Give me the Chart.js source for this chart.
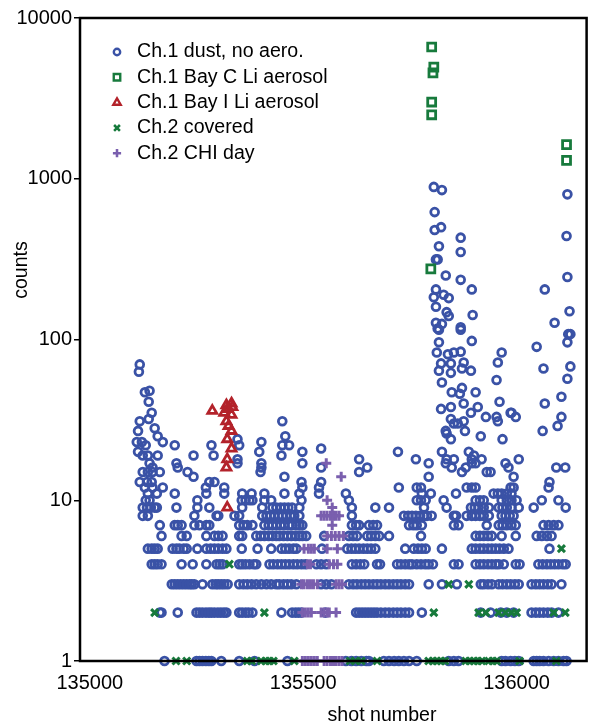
<!DOCTYPE html>
<html><head><meta charset="utf-8">
<script src="https://cdn.jsdelivr.net/npm/chart.js@4.4.1/dist/chart.umd.min.js"></script>
<style>html,body{margin:0;padding:0;background:#fff}#wrap{width:595px;height:725px}</style>
</head><body><div id="wrap"><canvas id="c" width="595" height="725"></canvas></div>
<script>
// ---- data (shot number, counts) ----
const seriesLabels = ['Ch.1 dust, no aero.', 'Ch.1 Bay C Li aerosol', 'Ch.1 Bay I Li aerosol', 'Ch.2 covered', 'Ch.2 CHI day'];
const xTicks = [135000, 135500, 136000];
const yTicks = [1, 10, 100, 1000, 10000];

// Ch.1 dust, shots at each low count level
const dust1 = [135175,135250,135257,135264,135272,135279,135285,135308,135350,135386,135463,135600,135613,135624,135636,135648,135654,135689,135701,135713,135724,135736,135748,135766,135841,135853,135864,135965,135974,135986,135996,136005,136040,136047,136054,136063,136075,136087,136098,136110,136117];
const dust2 = [135164,135168,135206,135250,135257,135264,135272,135279,135285,135292,135300,135307,135314,135320,135350,135357,135365,135372,135381,135449,135474,135482,135489,135496,135552,135624,135631,135638,135645,135652,135659,135666,135673,135682,135692,135701,135711,135720,135729,135739,135748,135778,135916,135939,135963,135977,135993,136035,136045,136054,136063,136073,136082,136098];
const dust3 = [135192,135199,135206,135213,135220,135227,135234,135239,135245,135264,135287,135295,135301,135308,135315,135323,135350,135360,135369,135379,135390,135402,135414,135425,135437,135444,135454,135463,135472,135484,135542,135554,135566,135607,135617,135626,135636,135645,135654,135664,135673,135682,135692,135701,135711,135720,135729,135739,135748,135794,135825,135860,135916,135923,135933,135942,135958,135967,135977,135986,135996,136005,136035,136045,136054,136063,136073,136082,136105];
const dust4 = [135145,135152,135159,135168,135215,135241,135273,135297,135304,135311,135350,135357,135365,135374,135384,135390,135421,135430,135440,135449,135458,135467,135477,135486,135496,135505,135531,135542,135554,135614,135624,135634,135643,135673,135680,135720,135729,135739,135748,135755,135766,135776,135786,135794,135804,135853,135864,135904,135914,135923,135933,135942,135951,135958,135970,135998,136007,136051,136061,136071,136080,136089,136098,136108,136115];
const dust5 = [135136,135145,135152,135159,135194,135203,135210,135220,135227,135252,135273,135283,135292,135301,135311,135320,135356,135393,135425,135449,135458,135467,135477,135484,135544,135603,135613,135622,135631,135641,135650,135659,135669,135739,135759,135769,135778,135787,135825,135895,135904,135914,135923,135933,135942,135951,135960,135970,135981,136077];
const dust6 = [135168,135215,135227,135273,135292,135301,135311,135350,135357,135390,135400,135409,135419,135428,135437,135444,135454,135463,135472,135482,135491,135498,135507,135549,135607,135617,135626,135650,135659,135669,135678,135701,135776,135904,135914,135923,135933,135942,135965,135998,136047,136059,136071,136082];
const dust7 = [135164,135199,135206,135215,135245,135257,135273,135280,135350,135360,135369,135381,135409,135419,135428,135437,135447,135456,135467,135474,135484,135491,135498,135614,135624,135631,135654,135664,135673,135748,135758,135766,135778,135853,135864,135930,135958,135967,135977,135988,135998,136063,136075,136087,136098];
const dust8 = [135124,135136,135245,135297,135301,135339,135350,135404,135414,135423,135432,135442,135451,135460,135470,135479,135491,135614,135736,135746,135755,135764,135774,135783,135790,135801,135853,135858,135883,135895,135904,135914,135923,135935,135965,135974,135984,135993];
const dust9 = [135124,135134,135143,135152,135157,135203,135252,135280,135357,135404,135428,135437,135447,135456,135465,135474,135491,135614,135669,135701,135783,135836,135893,135902,135911,135923,135935,135958,135967,135977,135988,136005,136040,136115];
const dust10 = [135131,135140,135252,135356,135365,135374,135381,135409,135425,135496,135607,135766,135776,135787,135829,135904,135914,135923,135965,135977,135988,136000,136059,136098];
// Ch.1 dust, higher counts as [shot, counts]
const dustHigh = [
 [135136,11],[135157,11],[135199,11],[135273,11],[135315,11],[135357,11],[135379,11],[135409,11],[135456,11],[135491,11],[135537,11],[135600,11],[135778,11],[135799,11],[135858,11],[135946,11],[135956,11],[135965,11],[135977,11],[135988,11],
 [135129,12],[135147,12],[135171,12],[135272,12],[135315,12],[135498,12],[135537,12],[135724,12],[135766,12],[135776,12],[135883,12],[135895,12],[135904,12],[135986,12],[135993,12],[136075,12],
 [135117,13],[135134,13],[135145,13],[135280,13],[135292,13],[135496,13],[135542,13],[136077,13],
 [135243,14],[135456,14],[135794,14],[135993,14],
 [135124,15],[135136,15],[135147,15],[135164,15],[135229,15],[135400,15],[135631,15],[135872,15],[135930,15],[135939,15],
 [135147,16],[135206,16],[135402,16],[135542,16],[135650,16],[135848,16],[135881,16],[135981,16],[136093,16],[136114,16],
 [135140,17],[135203,17],[135346,17],[135402,17],[135498,17],[135794,17],[135834,17],[135895,17],[135904,17],[135974,17],
 [135346,18],[135631,18],[135764,18],[135836,18],[135853,18],[135895,18],[135918,18],[136005,18],
 [135124,19],[135136,19],[135159,19],[135243,19],[135290,19],[135449,19],[135900,19],
 [135113,20],[135397,20],[135498,20],[135722,20],[135825,20],[135888,20],
 [135542,21],
 [135131,22],[135199,22],[135285,22],[135350,22],[135451,22],[135467,22],
 [135110,23],[135122,23],[135171,23],[135402,23],
 [135346,24],[135846,24],[135967,24],
 [135159,25],[135458,25],[135916,25],
 [135836,26],
 [135113,27],[135834,27],[135879,27],[136061,27],
 [135152,28],[136096,29],[135853,30],[135862,30],
 [135117,31],[135451,31],[135876,31],[135956,31],
 [135138,32],[135846,32],
 [135928,33],[135953,33],[135998,33],[136105,33],
 [135145,35],[135893,35],[135986,35],[135988,35],
 [135823,37],[135846,38],[135909,38],
 [135876,40],[136066,40],[135138,41],[135960,41],
 [136105,44],[135867,46],[135129,47],[135848,47],[135904,47],[135140,48],
 [135872,50],[135825,54],[135953,56],[136119,57],
 [135846,62],[135115,63],[135818,64],[135893,64],[135872,66],[136063,66],[136126,68],
 [135117,70],[135823,71],[135846,71],[135876,72],[135956,72],
 [135839,81],[135813,83],[135853,83],[135965,83],[135869,84],[136047,90],
 [135818,96],[136119,96],[135895,98],[136121,108],[136126,108],
 [135818,115],[135869,115],[135815,117],[135869,119],[135825,125],[135811,127],[136089,127],
 [135841,140],[135897,142],[135836,148],[136124,150],[135811,160],
 [135841,181],[135806,183],[135829,190],[135811,205],[135895,205],[136066,205],
 [135869,235],[136119,245],[135834,250],[135811,315],[135815,315],
 [135869,350],[135818,380],[135869,430],[136117,440],[135808,480],[135823,500],
 [135808,620],[136119,800],[135825,850],[135806,890]
];
// Ch.1 Bay C Li aerosol
const bayC = [[135801,6600],[135806,4950],[135804,4550],[135801,3000],[135801,2500],[135799,275],[136117,1630],[136117,1300]];
// Ch.1 Bay I Li aerosol
const bayI = [[135287,36],[135320,39],[135332,40],[135334,38],[135315,35],[135322,37],[135332,34],[135320,31],[135325,29],[135332,27],[135322,24],[135332,21],[135322,18],[135320,16],[135322,9]];
// Ch.2 covered
const covered = [
 [135202,1],[135227,1],[135369,1],[135379,1],[135402,1],[135412,1],[135421,1],[135430,1],[135479,1],[135610,1],[135622,1],[135636,1],[135673,1],[135794,1],[135804,1],[135813,1],[135823,1],[135832,1],[135881,1],[135890,1],[135900,1],[135909,1],[135918,1],[135935,1],[135944,1],[135953,1],[136007,1],[136093,1],
 [135152,2],[135409,2],[135806,2],[135911,2],[135928,2],[135958,2],[135974,2],[135988,2],[136000,2],[136087,2],[136114,2],
 [135841,3],[135888,3],[135327,4],[136105,5]
];
// Ch.2 CHI day
const chiDay = [
 [135498,1],[135505,1],[135512,1],[135519,1],[135526,1],[135533,1],[135549,1],[135556,1],[135564,1],[135571,1],[135577,1],[135584,1],[135591,1],
 [135498,2],[135505,2],[135512,2],[135519,2],[135542,2],[135549,2],[135556,2],[135561,2],[135577,2],
 [135496,3],[135502,3],[135510,3],[135517,3],[135524,3],[135533,3],[135577,3],[135584,3],[135591,3],
 [135510,4],[135517,4],[135561,4],[135571,4],[135580,4],
 [135502,5],[135512,5],[135519,5],[135526,5],[135556,5],[135580,5],
 [135556,6],[135566,6],[135575,6],[135584,6],[135594,6],
 [135568,7],
 [135542,8],[135549,8],[135556,8],[135564,8],[135571,8],[135577,8],[135584,8],
 [135568,9],[135556,10],[135589,14],[135554,17]
];

// ---- build datasets ----
const lowRows = [dust1, dust2, dust3, dust4, dust5, dust6, dust7, dust8, dust9, dust10];
const dustPts = [];
lowRows.forEach((row, i) => row.forEach(s => dustPts.push({x: s, y: i + 1})));
dustHigh.forEach(p => dustPts.push({x: p[0], y: p[1]}));
const toPts = arr => arr.map(p => ({x: p[0], y: p[1]}));

const BLUE = '#3a52a6', GREEN = '#177a3c', RED = '#b3222a', PURPLE = '#7a5fae';
const FONT = '"Liberation Sans", Arial, Helvetica, sans-serif';
const styles = [
  {pointStyle: 'circle', radius: 3.9, borderWidth: 2.8, color: BLUE},
  {pointStyle: 'rect', radius: 5.6, borderWidth: 2.8, color: GREEN},
  {pointStyle: 'triangle', radius: 5.2, borderWidth: 2.8, color: RED},
  {pointStyle: 'crossRot', radius: 5, borderWidth: 3, color: GREEN},
  {pointStyle: 'cross', radius: 5, borderWidth: 3, color: PURPLE}
];
const dataArrays = [dustPts, toPts(bayC), toPts(bayI), toPts(covered), toPts(chiDay)];
const orders = [5, 1, 2, 3, 4];

const datasets = dataArrays.map((d, i) => ({
  label: seriesLabels[i],
  data: d,
  order: orders[i],
  pointStyle: styles[i].pointStyle,
  pointRadius: styles[i].radius,
  pointBorderWidth: styles[i].borderWidth,
  pointBorderColor: styles[i].color,
  pointBackgroundColor: 'rgba(0,0,0,0)',
  borderColor: styles[i].color,
  backgroundColor: 'rgba(0,0,0,0)',
  showLine: false,
  clip: false
}));

function drawMarker(ctx, st, x, y) {
  ctx.save();
  ctx.strokeStyle = st.color;
  ctx.fillStyle = 'rgba(0,0,0,0)';
  ctx.lineWidth = st.borderWidth * 0.85;
  if (Chart.helpers && Chart.helpers.drawPoint) {
    Chart.helpers.drawPoint(ctx, {pointStyle: st.pointStyle, radius: st.radius * 0.82, rotation: 0, borderWidth: st.borderWidth}, x, y);
  }
  ctx.restore();
}

const decorations = {
  id: 'decorations',
  afterDatasetsDraw(chart) {
    const {ctx, chartArea: a} = chart;
    ctx.save();
    ctx.strokeStyle = '#000';
    ctx.lineWidth = 2.5;
    ctx.strokeRect(a.left, a.top, a.right - a.left, a.bottom - a.top);
    ctx.restore();
  },
  afterDraw(chart) {
    const ctx = chart.ctx;
    ctx.save();
    ctx.fillStyle = '#000';
    ctx.font = '19.6px ' + FONT;
    ctx.textBaseline = 'middle';
    ctx.textAlign = 'left';
    seriesLabels.forEach((lab, i) => {
      const y = 52 + i * 25.3;
      drawMarker(ctx, styles[i], 117, y);
      ctx.fillStyle = '#000';
      ctx.fillText(lab, 137, y);
    });
    ctx.textAlign = 'center';
    ctx.fillText('shot number', 382, 716);
    ctx.translate(22, 270);
    ctx.rotate(-Math.PI / 2);
    ctx.fillText('counts', 0, 0);
    ctx.restore();
  }
};

new Chart(document.getElementById('c'), {
  type: 'scatter',
  data: {datasets},
  options: {
    responsive: false,
    animation: false,
    events: [],
    layout: {padding: {top: 18, right: 7, left: 0, bottom: 0}},
    plugins: {legend: {display: false}, tooltip: {enabled: false}},
    scales: {
      x: {
        type: 'linear', min: 134977, max: 136164,
        afterBuildTicks: s => { s.ticks = xTicks.map(v => ({value: v})); },
        ticks: {font: {family: FONT, size: 20}, color: '#000', padding: 10, maxRotation: 0, autoSkip: false, callback: v => String(v)},
        grid: {display: false, drawTicks: false},
        border: {display: false},
        afterFit: s => { s.height = 64; }
      },
      y: {
        type: 'logarithmic', min: 1, max: 10000,
        afterBuildTicks: s => { s.ticks = yTicks.map(v => ({value: v, major: true})); },
        ticks: {font: {family: FONT, size: 20}, color: '#000', padding: 2, autoSkip: false, callback: v => String(v)},
        grid: {drawOnChartArea: false, drawTicks: true, tickLength: 6, color: '#000', lineWidth: 1.5},
        border: {display: false},
        afterFit: s => { s.width = 80; }
      }
    }
  },
  plugins: [decorations]
});
</script></body></html>
